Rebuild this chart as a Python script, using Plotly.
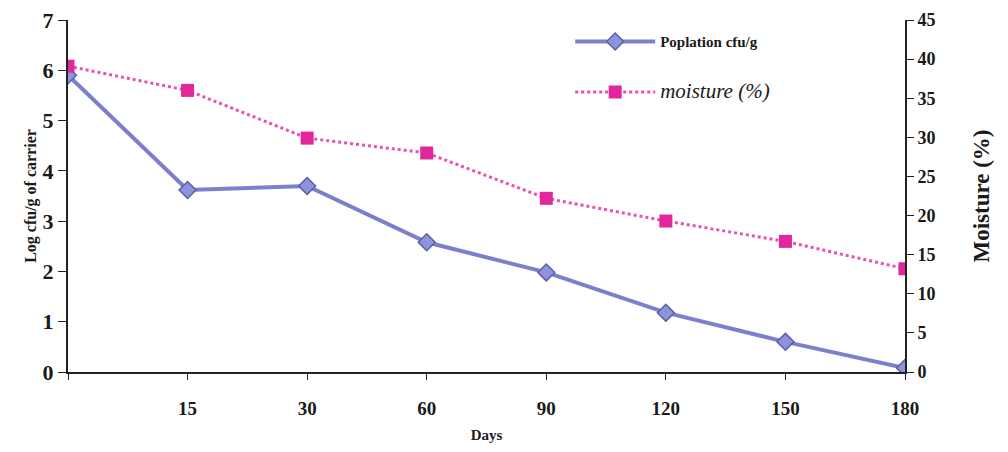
import plotly.graph_objects as go

day_labels = ["", "15", "30", "60", "90", "120", "150", "180"]
population = [5.9, 3.62, 3.7, 2.58, 1.98, 1.18, 0.6, 0.08]
moisture = [39.1, 36.0, 29.9, 28.0, 22.2, 19.3, 16.7, 13.2]

x_pos = list(range(len(day_labels)))
serif = "Liberation Serif, Times New Roman, serif"

fig = go.Figure()
fig.add_trace(go.Scatter(
    x=x_pos, y=population, name="<b>Poplation cfu/g</b>",
    mode="lines+markers",
    line=dict(color="#7c80cc", width=4),
    marker=dict(symbol="diamond", size=13, color="#8e94dc",
                line=dict(color="#5b5fa8", width=1.5)),
    legendgroup="a",
))
fig.add_trace(go.Scatter(
    x=x_pos, y=moisture, name="<span style='font-size:21px'><i>moisture (%)</i></span>",
    mode="lines+markers", yaxis="y2",
    line=dict(color="#ec4fb0", width=3, dash="dot"),
    marker=dict(symbol="square", size=13, color="#e2269c"),
    legendgroup="b",
))

fig.update_layout(
    width=1008, height=452,
    margin=dict(l=68, r=103, t=20, b=80),
    paper_bgcolor="white", plot_bgcolor="white",
    font=dict(family=serif, color="#1a1a1a", size=16),
    showlegend=True,
    legend=dict(x=0.6, y=0.985, xanchor="left", yanchor="top",
                bgcolor="rgba(0,0,0,0)", tracegroupgap=28,
                traceorder="grouped", font=dict(size=15, family=serif),
                itemwidth=80),
    xaxis=dict(
        tickmode="array", tickvals=x_pos, ticktext=day_labels,
        range=[0, 7], showline=True, linecolor="#222", linewidth=2,
        ticks="outside", ticklen=6, tickcolor="#222", showgrid=False, zeroline=False,
        tickfont=dict(size=19, family=serif, weight="bold"), ticklabelstandoff=12,
        title=dict(text="<b>Days</b>", font=dict(size=15, family=serif), standoff=12),
        automargin=False,
    ),
    yaxis=dict(
        range=[0, 7], dtick=1, showline=True, linecolor="#222", linewidth=2,
        ticks="outside", ticklen=8, tickcolor="#222", showgrid=False, zeroline=False,
        tickfont=dict(size=22, family=serif, weight="bold"),
        title=dict(text="<b>Log cfu/g of carrier</b>", font=dict(size=16, family=serif), standoff=2),
        automargin=False,
    ),
    yaxis2=dict(
        range=[0, 45], dtick=5, overlaying="y", side="right",
        showline=True, linecolor="#222", linewidth=2,
        ticks="outside", ticklen=7, tickcolor="#222", showgrid=False, zeroline=False,
        tickfont=dict(size=18, family=serif, weight="bold"),
        title=dict(text="<b>Moisture (%)</b>", font=dict(size=23, family=serif), standoff=38),
        automargin=False,
    ),
)

fig.write_html("out.html")
